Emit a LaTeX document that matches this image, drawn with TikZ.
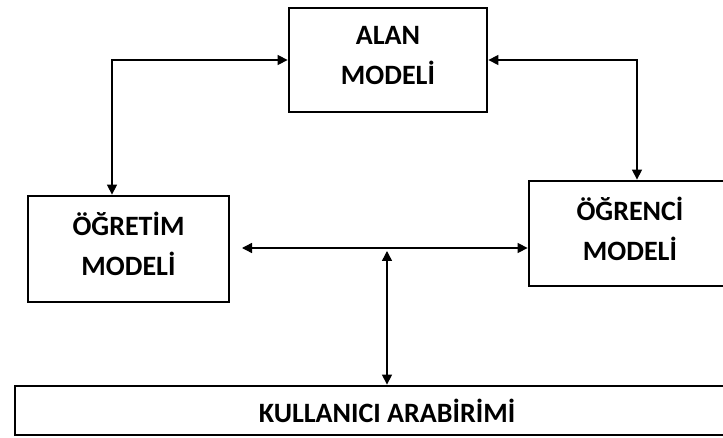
\documentclass[tikz,border=0pt]{standalone}
\usepackage{fontspec}
\setmainfont{Carlito}
\usepackage{tikz}
\usetikzlibrary{arrows.meta}
\newcommand{\lowpad}{\rule[-10pt]{0pt}{10pt}}
\tikzstyle{box} = [draw, line width=2.8pt, align=center, inner sep=0pt, font=\fontsize{28}{40}\selectfont\bfseries]
\tikzstyle{bs} = [{Triangle[length=10pt,width=10pt]}-{Triangle[length=10pt,width=10pt]}, line width=1.4pt]

\begin{document}
\begin{tikzpicture}[yscale=-1,x=1pt,y=1pt]
			\useasboundingbox (0,0) rectangle (723,438);
			\clip (0,0) rectangle (723,438);
			\node[box, minimum width=198pt, minimum height=104pt] (alan) at (388,60) {ALAN\\MODELİ\lowpad};
			\node[box, minimum width=201pt, minimum height=106pt] (ogretim) at (128.5,249) {ÖĞRETİM\\MODELİ\lowpad};
			\node[box, minimum width=202pt, minimum height=105pt] (ogrenci) at (630,233.5) {ÖĞRENCİ\\MODELİ\lowpad};
			\node[box, minimum width=744pt, minimum height=49pt] (kullanici) at (387,410.5) {KULLANICI ARABİRİMİ};
			\coordinate (lc) at (112,57);
			\coordinate (rc) at (637,57);
			\coordinate (hl) at (242,248);
			\coordinate (hub) at (387,251);
			\draw[bs] (alan.west) -| (lc |- ogretim.north);
			\draw[bs] (alan.east) -| (rc |- ogrenci.north);
			\draw[bs] (hl) -- (hl -| ogrenci.west);
			\draw[bs] (kullanici.north) -- (kullanici.north |- hub);
		\end{tikzpicture}
\end{document}
